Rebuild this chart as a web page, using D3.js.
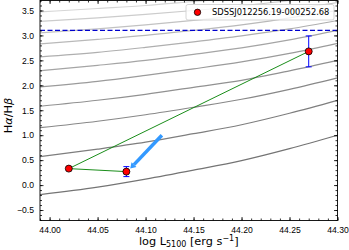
<!DOCTYPE html>
<html>
<head>
<meta charset="utf-8">
<script src="https://cdn.jsdelivr.net/npm/d3@7"></script>
<style>
  body { margin: 0; background: #fff; }
  svg { display: block; font-family: "DejaVu Sans", sans-serif; }
</style>
</head>
<body>
<div id="chart"></div>
<script>
// luminosity grid where the model curves were read
const xGrid = [43.99, 44.05, 44.10, 44.15, 44.20, 44.25, 44.30];
// model curves, bottom (dark) to top (light)
const curves = [
  [-0.19, -0.04, 0.12, 0.30, 0.49, 0.73, 1.00],
  [0.57, 0.72, 0.86, 1.03, 1.21, 1.44, 1.70],
  [1.15, 1.28, 1.41, 1.56, 1.72, 1.92, 2.15],
  [1.58, 1.70, 1.82, 1.96, 2.10, 2.29, 2.50],
  [1.97, 2.08, 2.20, 2.33, 2.47, 2.64, 2.84],
  [2.29, 2.40, 2.50, 2.62, 2.75, 2.91, 3.10],
  [2.57, 2.66, 2.76, 2.87, 2.99, 3.13, 3.30],
  [2.83, 2.92, 3.00, 3.10, 3.21, 3.35, 3.50],
  [3.05, 3.13, 3.21, 3.30, 3.40, 3.52, 3.66],
  [3.28, 3.35, 3.42, 3.50, 3.59, 3.70, 3.82],
  [3.47, 3.54, 3.60, 3.68, 3.76, 3.86, 3.98]
];
// observations
const obsL = [44.02, 44.08, 44.27];
const obsRatio = [0.33, 0.27, 2.68];
const obsErr = [0.0, 0.10, 0.31];
const pathOrder = [1, 0, 2];
const arrowFrom = [44.117, 1.0];
const arrowTo = [44.084, 0.33];
const caseB = 3.1;
const legendLabel = "SDSSJ012256.19-000252.68";
const xTicks = [44.00, 44.05, 44.10, 44.15, 44.20, 44.25, 44.30];
const yTicks = [-0.5, 0.0, 0.5, 1.0, 1.5, 2.0, 2.5, 3.0, 3.5];

const W = 349, H = 250;
const m = {left: 40, right: 11.5, top: 0.5, bottom: 29.5};

const svg = d3.select("#chart").append("svg")
  .attr("width", W).attr("height", H);

const x = d3.scaleLinear().domain([43.99, 44.30]).range([m.left, W - m.right]);
const y = d3.scaleLinear().domain([-0.71, 3.7]).range([H - m.bottom, m.top]);

svg.append("clipPath").attr("id", "clip")
  .append("rect")
  .attr("x", m.left).attr("y", m.top)
  .attr("width", W - m.left - m.right).attr("height", H - m.top - m.bottom);

const plot = svg.append("g").attr("clip-path", "url(#clip)");

// grey model curves
const grey = d3.scaleLinear().domain([0, curves.length - 1]).range(["#747474", "#d6d6d6"]);
const line = d3.line()
  .x((d, i) => x(xGrid[i]))
  .y(d => y(d))
  .curve(d3.curveMonotoneX);
plot.selectAll("path.curve")
  .data(curves)
  .enter().append("path")
  .attr("class", "curve")
  .attr("d", line)
  .attr("fill", "none")
  .attr("stroke", (d, i) => grey(i))
  .attr("stroke-width", 1.2);

// case B line
plot.append("line")
  .attr("x1", x.range()[0]).attr("x2", x.range()[1])
  .attr("y1", y(caseB)).attr("y2", y(caseB))
  .attr("stroke", "#0000cd")
  .attr("stroke-width", 1.3)
  .attr("stroke-dasharray", "5,2.5");

// green connecting line
plot.append("path")
  .datum(pathOrder)
  .attr("d", d3.line().x(i => x(obsL[i])).y(i => y(obsRatio[i])))
  .attr("fill", "none")
  .attr("stroke", "#008000")
  .attr("stroke-width", 0.9);

// error bars
const eb = plot.selectAll("g.err")
  .data(obsL.map((d, i) => i).filter(i => obsErr[i] > 0))
  .enter().append("g").attr("class", "err")
  .attr("stroke", "#0000ff").attr("stroke-width", 1);
eb.append("line")
  .attr("x1", i => x(obsL[i])).attr("x2", i => x(obsL[i]))
  .attr("y1", i => y(obsRatio[i] - obsErr[i])).attr("y2", i => y(obsRatio[i] + obsErr[i]));
[-1, 1].forEach(s => {
  eb.append("line")
    .attr("x1", i => x(obsL[i]) - 3).attr("x2", i => x(obsL[i]) + 3)
    .attr("y1", i => y(obsRatio[i] + s * obsErr[i])).attr("y2", i => y(obsRatio[i] + s * obsErr[i]));
});

// points
plot.selectAll("circle.obs")
  .data(obsL)
  .enter().append("circle")
  .attr("class", "obs")
  .attr("cx", d => x(d))
  .attr("cy", (d, i) => y(obsRatio[i]))
  .attr("r", 3.5)
  .attr("fill", "#ff0000")
  .attr("stroke", "#000")
  .attr("stroke-width", 0.8);

// arrow
const ax0 = x(arrowFrom[0]), ay0 = y(arrowFrom[1]);
const ax1 = x(arrowTo[0]), ay1 = y(arrowTo[1]);
const ang = Math.atan2(ay1 - ay0, ax1 - ax0);
const headLen = 5.5, headW = 3.4;
const bx = ax1 - headLen * Math.cos(ang), by = ay1 - headLen * Math.sin(ang);
plot.append("line")
  .attr("x1", ax0).attr("y1", ay0).attr("x2", bx).attr("y2", by)
  .attr("stroke", "#3399ff").attr("stroke-width", 3.5);
plot.append("path")
  .attr("d", d3.line()([
    [ax1, ay1],
    [bx + headW * Math.sin(ang), by - headW * Math.cos(ang)],
    [bx - headW * Math.sin(ang), by + headW * Math.cos(ang)]
  ]) + "Z")
  .attr("fill", "#3399ff");

// axes with inward ticks on all sides
function styleAxis(g) {
  g.select(".domain").remove();
  g.selectAll("line").attr("stroke", "#000").attr("stroke-width", 0.8);
  g.selectAll("text").attr("fill", "#000").attr("font-size", "8.6px");
}
const xMinor = d3.range(43.99, 44.3001, 0.01);
const yMinor = d3.range(-0.7, 3.701, 0.1);

const axB = svg.append("g").attr("transform", `translate(0,${H - m.bottom})`);
axB.call(d3.axisBottom(x).tickValues(xMinor).tickSize(-2).tickFormat(""));
axB.append("g").call(d3.axisBottom(x).tickValues(xTicks).tickSize(-3.5).tickPadding(6).tickFormat(d3.format(".2f")));
axB.call(styleAxis); axB.selectAll("g g").call(styleAxis);

const axT = svg.append("g").attr("transform", `translate(0,${m.top})`);
axT.call(d3.axisTop(x).tickValues(xMinor).tickSize(-2).tickFormat(""));
axT.append("g").call(d3.axisTop(x).tickValues(xTicks).tickSize(-3.5).tickFormat(""));
axT.call(styleAxis); axT.selectAll("g g").call(styleAxis);

const axL = svg.append("g").attr("transform", `translate(${m.left},0)`);
axL.call(d3.axisLeft(y).tickValues(yMinor).tickSize(-2).tickFormat(""));
axL.append("g").call(d3.axisLeft(y).tickValues(yTicks).tickSize(-3.5).tickPadding(6).tickFormat(d3.format(".1f")));
axL.call(styleAxis); axL.selectAll("g g").call(styleAxis);

const axR = svg.append("g").attr("transform", `translate(${W - m.right},0)`);
axR.call(d3.axisRight(y).tickValues(yMinor).tickSize(-2).tickFormat(""));
axR.append("g").call(d3.axisRight(y).tickValues(yTicks).tickSize(-3.5).tickFormat(""));
axR.call(styleAxis); axR.selectAll("g g").call(styleAxis);

// frame
svg.append("rect")
  .attr("x", m.left).attr("y", m.top)
  .attr("width", W - m.left - m.right).attr("height", H - m.top - m.bottom)
  .attr("fill", "none").attr("stroke", "#000").attr("stroke-width", 0.9);

// legend
const lg = svg.append("g");
lg.append("rect")
  .attr("x", 186).attr("y", 4.5).attr("width", 148).attr("height", 15.5)
  .attr("rx", 2)
  .attr("fill", "rgba(255,255,255,0.8)").attr("stroke", "#cccccc").attr("stroke-width", 0.8);
lg.append("circle")
  .attr("cx", 197.5).attr("cy", 12.3).attr("r", 3.2)
  .attr("fill", "#ff0000").attr("stroke", "#000").attr("stroke-width", 0.8);
lg.append("text")
  .attr("x", 212).attr("y", 15.3)
  .attr("font-size", "8.3px").attr("fill", "#000")
  .text(legendLabel);

// axis labels
const xl = svg.append("text")
  .attr("x", (m.left + W - m.right) / 2).attr("y", 245)
  .attr("text-anchor", "middle").attr("font-size", "11.3px").attr("fill", "#000");
xl.append("tspan").text("log L");
xl.append("tspan").attr("font-size", "8px").attr("dy", 2).text("5100");
xl.append("tspan").attr("dy", -2).text(" [erg s");
xl.append("tspan").attr("font-size", "8px").attr("dy", -4.5).text("\u22121");
xl.append("tspan").attr("dy", 4.5).text("]");

const yl = svg.append("text")
  .attr("transform", `translate(12,${(m.top + H - m.bottom) / 2 + 5}) rotate(-90)`)
  .attr("text-anchor", "middle").attr("font-size", "11.3px").attr("fill", "#000");
yl.append("tspan").text("H");
yl.append("tspan").attr("font-style", "italic").text("\u03b1");
yl.append("tspan").text("/H");
yl.append("tspan").attr("font-style", "italic").text("\u03b2");
</script>
</body>
</html>
